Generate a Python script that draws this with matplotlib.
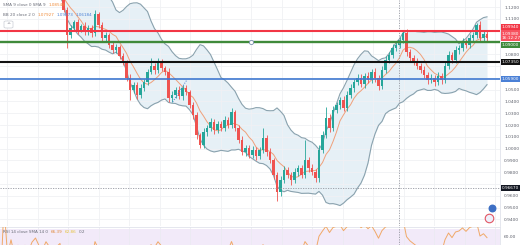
import numpy as np
import pandas as pd
import matplotlib
matplotlib.use("Agg")
import matplotlib.pyplot as plt
import matplotlib.transforms as mtransforms
from matplotlib.patches import FancyBboxPatch

# EUR/USD 蜡烛图 + 布林带 + RSI，数值是从截图上读出来的估计值
# 截图里的蜡烛更密，这里每根大约相当于原图 1.25 根，所以指标周期按比例缩短
first_open = 1.1300
closes = [
    1.1310, 1.1325, 1.1302, 1.1316, 1.1295, 1.1308, 1.1290, 1.1305, 1.1292, 1.1310,
    1.1320, 1.1304, 1.1295, 1.1312, 1.1300, 1.1290, 1.1298, 1.1305, 1.1175, 1.0963,
    1.1023, 1.1074, 1.1006, 1.1040, 1.0989, 1.1023, 1.0980, 1.1141, 1.1048, 1.0938,
    1.0963, 1.0879, 1.0836, 1.0862, 1.0785, 1.0735, 1.0599, 1.0497, 1.0540, 1.0455,
    1.0514, 1.0565, 1.0650, 1.0701, 1.0667, 1.0735, 1.0684, 1.0650, 1.0429, 1.0455,
    1.0497, 1.0446, 1.0514, 1.0480, 1.0370, 1.0285, 1.0116, 1.0031, 1.0141, 1.0175,
    1.0226, 1.0158, 1.0209, 1.0175, 1.0243, 1.0201, 1.0311, 1.0175, 1.0074, 0.9972,
    1.0006, 0.9946, 0.9989, 0.9938, 0.9989, 1.0090, 0.9972, 0.9904, 0.9777, 0.9633,
    0.9735, 0.9819, 0.9777, 0.9735, 0.9802, 0.9836, 0.9777, 0.9904, 0.9836, 0.9802,
    0.9751, 0.9989, 1.0116, 1.0260, 1.0175, 1.0328, 1.0370, 1.0412, 1.0345, 1.0455,
    1.0514, 1.0565, 1.0599, 1.0548, 1.0616, 1.0582, 1.0650, 1.0599, 1.0531, 1.0667,
    1.0752, 1.0794, 1.0853, 1.0879, 1.0921, 1.0980, 1.0819, 1.0768, 1.0735, 1.0701,
    1.0667, 1.0624, 1.0582, 1.0599, 1.0565, 1.0616, 1.0582, 1.0701, 1.0794, 1.0752,
    1.0836, 1.0853, 1.0904, 1.0879, 1.0938, 1.0963, 1.1048, 1.0938, 1.0972, 1.0938,
]
# 上/下影线长度，单位 pip
up_wick = [
    15, 18, 12, 16, 10, 15, 12, 16, 10, 15,
    18, 12, 15, 16, 10, 12, 15, 10, 30, 25,
    28, 20, 25, 18, 30, 22, 26, 34, 20, 25,
    30, 20, 28, 22, 18, 25, 20, 30, 22, 25,
    30, 25, 28, 68, 22, 30, 25, 20, 30, 35,
    25, 30, 22, 28, 20, 25, 30, 20, 35, 25,
    30, 22, 28, 25, 30, 22, 34, 20, 25, 30,
    28, 25, 30, 22, 28, 85, 25, 30, 20, 25,
    35, 30, 25, 28, 30, 25, 28, 170, 25, 30,
    22, 40, 35, 93, 30, 35, 28, 30, 35, 30,
    35, 28, 30, 35, 25, 30, 28, 30, 25, 35,
    30, 28, 35, 30, 28, 25, 30, 25, 28, 30,
    25, 30, 28, 35, 25, 30, 28, 35, 30, 28,
    30, 25, 35, 28, 30, 25, 17, 30, 28, 25,
]
down_wick = [
    5, 5, 5, 5, 4, 5, 4, 5, 4, 5,
    5, 5, 5, 5, 5, 4, 5, 5, 20, 110,
    25, 22, 30, 20, 28, 25, 30, 22, 25, 30,
    25, 30, 22, 28, 25, 30, 28, 85, 25, 30,
    22, 28, 25, 20, 30, 25, 28, 22, 35, 30,
    28, 25, 30, 22, 28, 30, 35, 25, 28, 30,
    25, 30, 22, 28, 25, 30, 22, 28, 30, 25,
    30, 28, 25, 30, 22, 28, 30, 25, 35, 76,
    30, 25, 28, 42, 25, 30, 28, 25, 30, 28,
    34, 30, 25, 28, 30, 25, 28, 30, 25, 28,
    25, 30, 28, 25, 30, 28, 25, 30, 34, 28,
    25, 30, 28, 25, 30, 28, 30, 25, 28, 30,
    28, 25, 30, 28, 34, 25, 30, 28, 25, 30,
    28, 30, 25, 28, 30, 25, 28, 30, 25, 28,
]

# 水平线
red_level = 1.0994
green_level = 1.0900
black_level = 1.0735
blue_level = 1.0590

# 十字光标 / 画线的锚点（蜡烛序号, 价格）
cross_x = 113.9
cross_y = 0.9667
handle_pt = (71.6, green_level)
dotted_line = ([49.2, 53.3], [1.0396, 1.0585])
event_dot = (140.4, 0.9497)
flag_dot = (139.6, 0.9412)

price_ticks = [0.94, 0.95, 0.96, 0.97, 0.98, 0.99, 1.00, 1.01, 1.02, 1.03,
               1.04, 1.05, 1.06, 1.07, 1.08, 1.09, 1.10, 1.11, 1.12]
grid_px = [7, 37.5, 68, 98.5, 129, 159.5, 190, 220.5, 251, 281.5,
           312, 342.5, 373, 403.5, 434, 464.5, 495]

W, H = 520, 245
PX = 3.5           # 每根蜡烛的像素宽
PPP = 0.0008475    # 每像素对应的价格
TOP = 1.126
BB_N, SMA_N, RSI_N = 16, 7, 8


def rect(x0, y0, x1, y1):
    return [x0 / W, 1 - y1 / H, (x1 - x0) / W, (y1 - y0) / H]


c = np.array(closes)
o = np.r_[first_open, c[:-1]]
hi = np.maximum(o, c) + np.array(up_wick) * 1e-4
lo = np.minimum(o, c) - np.array(down_wick) * 1e-4
idx = np.arange(len(c))
col = np.where(c >= o, '#26a69a', '#ef5350')

s = pd.Series(c)
mid = s.rolling(BB_N, min_periods=1).mean()
sd = s.rolling(BB_N, min_periods=1).std(ddof=0).fillna(0)
upper = mid + 2 * sd
lower = mid - 2 * sd
sma = s.rolling(SMA_N, min_periods=1).mean()

delta = s.diff().fillna(0)
gain = delta.clip(lower=0).ewm(alpha=1 / RSI_N, adjust=False).mean()
loss = (-delta.clip(upper=0)).ewm(alpha=1 / RSI_N, adjust=False).mean()
rsi = 100 - 100 / (1 + gain / loss.replace(0, 1e-9))

fig = plt.figure(figsize=(W / 100, H / 100), dpi=100)
ax = fig.add_axes(rect(0, 0, 500, 226))
ax2 = fig.add_axes(rect(0, 227, 500, 245))

xlim = (-0.5 / PX, 499.5 / PX)
grid_idx = [(g - 0.5) / PX for g in grid_px]

# 主图
ax.set_xlim(*xlim)
ax.set_ylim(TOP - 226 * PPP, TOP)
ax.fill_between(idx, lower, upper, color='#e6f0f6', lw=0, zorder=1)
ax.plot(idx, upper, color='#8aa2ae', lw=0.8, zorder=2)
ax.plot(idx, lower, color='#8aa2ae', lw=0.8, zorder=2)
ax.plot(idx, sma, color='#f0a07a', lw=0.7, zorder=3)
ax.vlines(idx, lo, hi, colors=col, lw=0.6, zorder=4)
ax.bar(idx, np.maximum(np.abs(c - o), 0.0003), bottom=np.minimum(o, c),
       width=0.7, color=col, lw=0, zorder=4)

ax.axhline(red_level, color='#f23645', lw=1.5, zorder=6)
ax.axhline(green_level, color='#3f8a3a', lw=1.7, zorder=6)
ax.axhline(black_level, color='#111111', lw=1.5, zorder=6)
ax.axhline(blue_level, color='#3f78d0', lw=1.2, zorder=6)
ax.plot(*dotted_line, color='#3f78d0', lw=0.7, ls=(0, (1, 1.5)), zorder=6)
ax.scatter([handle_pt[0]], [handle_pt[1]], s=9, facecolor='white',
           edgecolor='#7b8fb0', lw=0.6, zorder=7)

ax.axhline(cross_y, color='#9598a1', lw=0.6, ls=(0, (1.5, 1.5)), zorder=5)
ax.axvline(cross_x, color='#9598a1', lw=0.6, ls=(0, (1.5, 1.5)), zorder=5)

ax.scatter([event_dot[0]], [event_dot[1]], s=22, color='#3d6fc4', zorder=7)
ax.scatter([flag_dot[0]], [flag_dot[1]], s=38, facecolor='#eef0fb',
           edgecolor='#e25563', lw=0.8, zorder=7)

# 右侧价格标签（被彩色标签挡住的刻度不写字）
boxes = [
    (red_level, f"{red_level:.5f}", '#f23645', TOP - 27 * PPP),
    (c[-1], f"{c[-1]:.5f}\n16:12:27", '#f7525f', TOP - 35.5 * PPP),
    (green_level, f"{green_level:.5f}", '#3f8a3a', TOP - 45 * PPP),
    (black_level, f"{black_level:.5f}", '#111111', black_level),
    (blue_level, f"{blue_level:.5f}", '#4a80d6', blue_level),
    (cross_y, f"{cross_y:.5f}", '#131722', cross_y),
]
box_pos = [b[3] for b in boxes]
tick_labels = [f"{t:.4f}" if min(abs(t - p) for p in box_pos) > 6.5 * PPP else ""
               for t in price_ticks]

ax.set_xticks(grid_idx)
ax.set_yticks(price_ticks)
ax.grid(True, color='#f0f1f4', lw=0.6, zorder=0)
ax.tick_params(axis='x', length=0, labelbottom=False)
ax.yaxis.tick_right()
ax.set_yticklabels(tick_labels)
ax.tick_params(axis='y', length=0, labelsize=3.2, labelcolor='#5d606b', pad=3)
for k, sp in ax.spines.items():
    sp.set_visible(k == 'right')
ax.spines['right'].set_color('#e0e3eb')
ax.spines['right'].set_linewidth(0.6)

tr = mtransforms.blended_transform_factory(ax.transAxes, ax.transData)
for price, text, fc, pos in boxes:
    ax.text(1.004, pos, text, transform=tr, fontsize=3.1, color='white',
            va='center', ha='left', clip_on=False, zorder=10, linespacing=1.0,
            bbox=dict(boxstyle='square,pad=0.3', fc=fc, ec='none'))

# RSI 副图
ax2.set_xlim(*xlim)
ax2.set_ylim(49.3, 72)
ax2.axhspan(30, 70, color='#f2eaf9', lw=0, zorder=0)
ax2.plot(idx, rsi, color='#f0a868', lw=0.7, zorder=3)
ax2.axvline(cross_x, color='#9598a1', lw=0.6, ls=(0, (1.5, 1.5)), zorder=5)
ax2.set_xticks(grid_idx)
ax2.set_yticks([60])
ax2.set_yticklabels(["60.00"])
ax2.grid(True, axis='x', color='#eceaf2', lw=0.6, zorder=1)
ax2.tick_params(axis='x', length=0, labelbottom=False)
ax2.yaxis.tick_right()
ax2.tick_params(axis='y', length=0, labelsize=3.2, labelcolor='#5d606b', pad=3)
for k, sp in ax2.spines.items():
    sp.set_visible(k in ('right', 'top'))
    sp.set_color('#e0e3eb')
    sp.set_linewidth(0.6)

# 左上角图例：一段一段往右排，避免重叠
renderer = fig.canvas.get_renderer()


def legend_row(x, y, parts, size=3.0, gap=2.5):
    for txt, color in parts:
        t = fig.text(x / W, 1 - y / H, txt, va='center', ha='left',
                     fontsize=size, color=color)
        x = t.get_window_extent(renderer=renderer).x1 + gap


legend_row(3, 5, [("SMA 9 close 0 SMA 9", '#6a6d78'), ("1.08548", '#f08c3a')])
legend_row(3, 15, [("BB 20 close 2 0", '#6a6d78'), ("1.07927", '#f08c3a'),
                   ("1.09873", '#4a80d6'), ("1.06184", '#4a80d6')])
legend_row(3, 231.5, [("RSI 14 close SMA 14 0", '#6a6d78'), ("66.39", '#e08a3c'),
                      ("62.86", '#e6c23a'), ("0.2", '#6a6d78')])
fig.add_artist(FancyBboxPatch((4 / W, 1 - 28 / H), 9 / W, 7 / H,
                              boxstyle='round,pad=0,rounding_size=0.004',
                              transform=fig.transFigure, fc='white', ec='#c9ccd4', lw=0.5))
fig.text(8.5 / W, 1 - 24.5 / H, "^", va='center', ha='center', fontsize=3.5, color='#6a6d78')

fig.savefig("out.png", dpi=100)
